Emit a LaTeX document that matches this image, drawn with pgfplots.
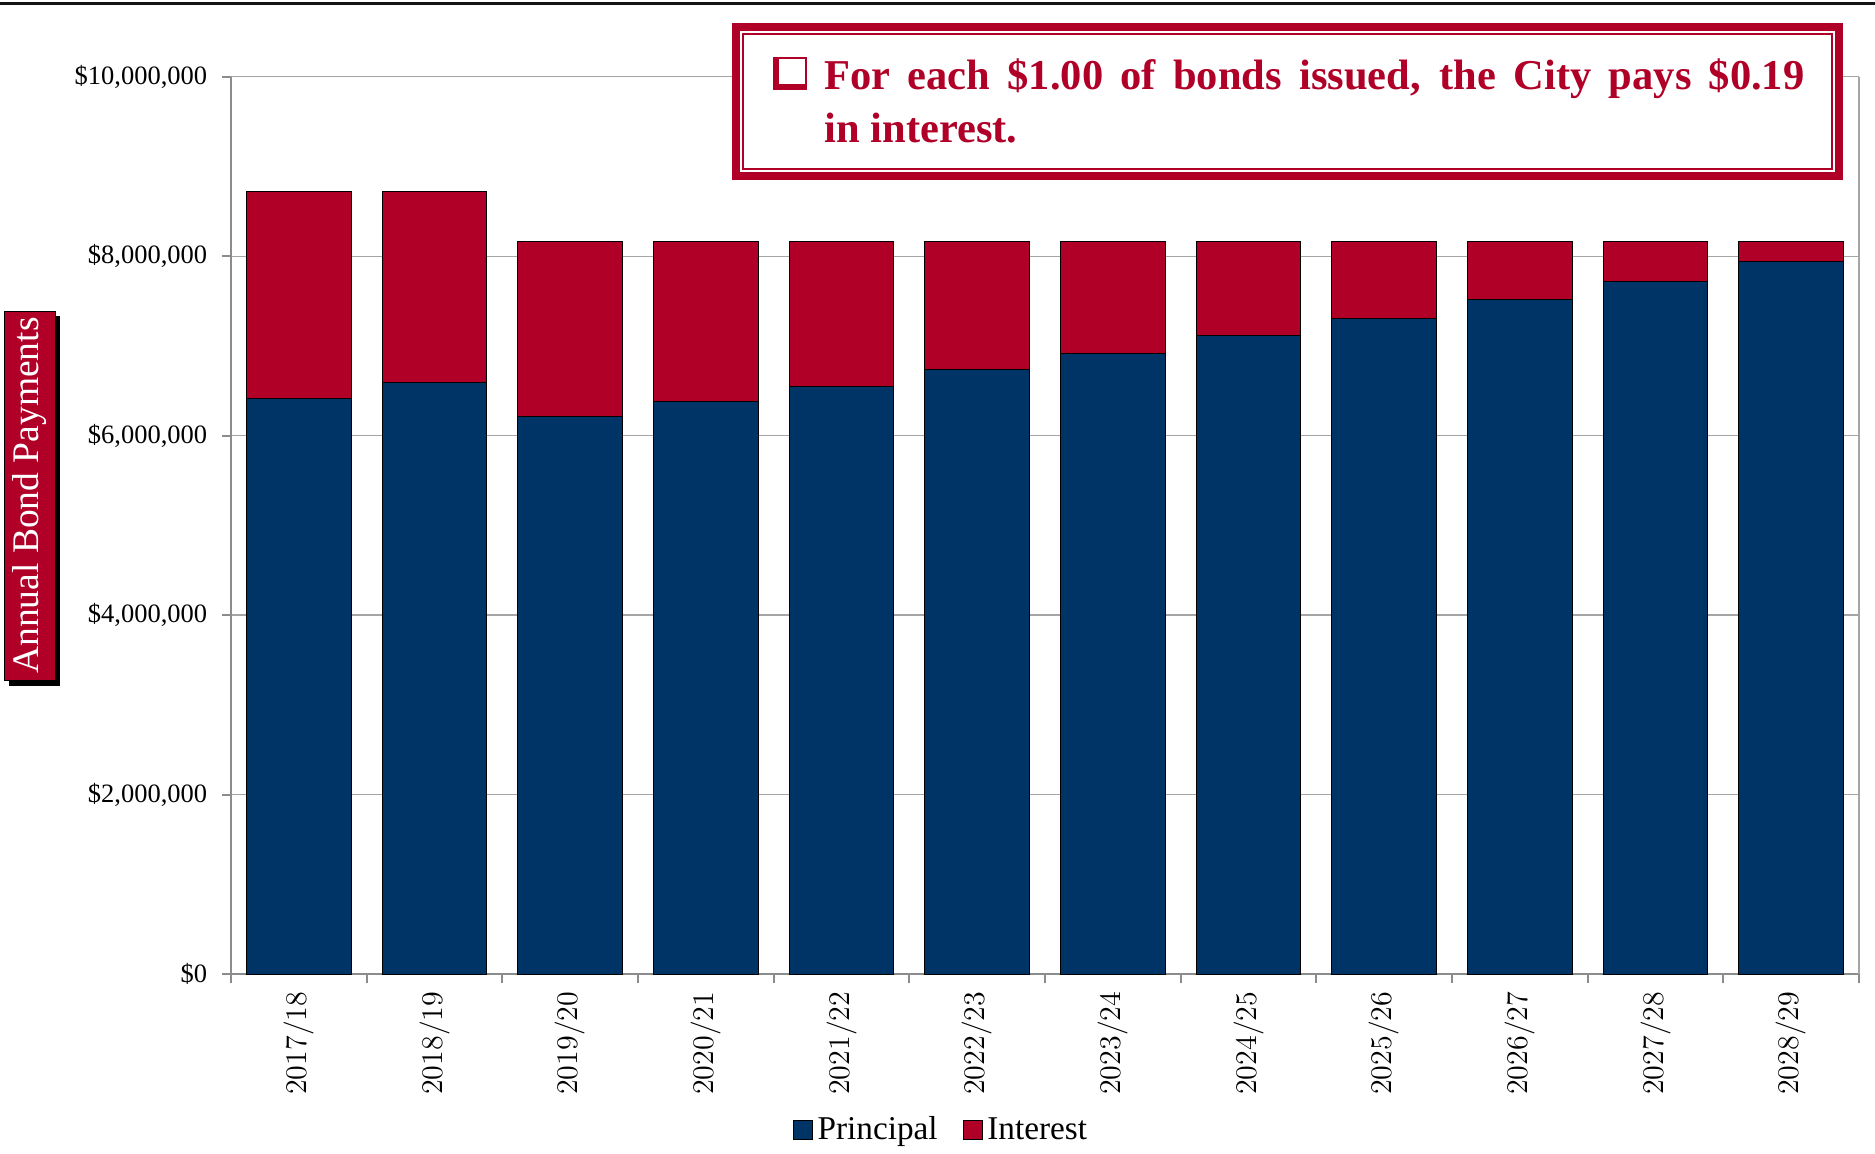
\documentclass[border=0pt]{standalone}
\usepackage{pgfplots}
\pgfplotsset{compat=1.18}
\usepackage{fontspec}
\newfontfamily\serif{Liberation Serif}
\definecolor{navy}{RGB}{0,51,102}
\definecolor{crim}{RGB}{176,0,40}
\definecolor{axgray}{RGB}{140,140,140}
\definecolor{gridgray}{RGB}{165,165,165}

\pgfplotstableread{
x P I
0 6410000 2310000
1 6590000 2130000
2 6210000 1950000
3 6380000 1780000
4 6550000 1610000
5 6740000 1420000
6 6920000 1240000
7 7120000 1040000
8 7310000 850000
9 7520000 640000
10 7720000 440000
11 7940000 220000
}\bonds

\begin{document}
\begin{tikzpicture}
\begin{scope}[x=0.4pt,y=-0.4pt]
\useasboundingbox (0,0) rectangle (1875,1152);
\fill[black!92] (0,1.5) rectangle (1875,4.5);
\end{scope}
\begin{axis}[
  at={(92.4pt,-389.6pt)}, anchor=south west,
  width=651.2pt, height=358.9pt, scale only axis,
  ymin=0, ymax=10000000, xmin=-0.5, xmax=11.5,
  ybar stacked, bar width=0.77,
  axis lines*=left,
  axis line style={draw=axgray, line width=1pt},
  tick align=outside,
  major tick length=3.6pt, minor tick length=3.4pt,
  ytick={0,2000000,4000000,6000000,8000000,10000000},
  yticklabels={{\$0},{\$2,000,000},{\$4,000,000},{\$6,000,000},{\$8,000,000},{\$10,000,000}},
  scaled y ticks=false,
  yticklabel style={font=\serif\fontsize{10.6}{10.6}\selectfont, text=black, xshift=-2.4pt},
  ytick style={draw=axgray, line width=0.8pt},
  ymajorgrids, grid style={draw=gridgray, line width=0.5pt},
  xtick={0,...,11},
  xticklabels={2017/18,2018/19,2019/20,2020/21,2021/22,2022/23,2023/24,2024/25,2025/26,2026/27,2027/28,2028/29},
  x tick label style={rotate=90, anchor=east, font=\fontsize{12}{12}\selectfont},
  major x tick style={draw=none},
  minor xtick={-0.5,0.5,...,11.5},
  minor x tick style={draw=axgray, line width=0.8pt},
  legend style={at={(0.437,-0.174)}, anchor=center, draw=none, legend columns=2,
    font=\serif\fontsize{13.3}{13.3}\selectfont,
    /tikz/every even column/.append style={column sep=8pt}},
  legend image code/.code={\draw[#1, draw=black, line width=0.3pt] (0pt,-3.8pt) rectangle (7.6pt,3.8pt);},
  clip=false,
]
\addplot[fill=navy, draw=black, line width=0.4pt] table[x=x, y=P] {\bonds};
\addlegendentry{Principal}
\addplot[fill=crim, draw=black, line width=0.4pt] table[x=x, y=I] {\bonds};
\addlegendentry{Interest}
\draw[draw=gridgray, line width=0.5pt] (rel axis cs:1,0) -- (rel axis cs:1,1);
\end{axis}
\begin{scope}[x=0.4pt,y=-0.4pt]
% y label box
\fill[black] (9,316) rectangle (60,686);
\fill[crim, draw=black, line width=0.4pt] (4,311) rectangle (55,680);
\node[rotate=90, text=white, font=\serif\fontsize{15}{15}\selectfont] at (30,495.5) {Annual Bond Payments};
% text box
\fill[crim] (732,23) rectangle (1843,180);
\fill[white] (740,31) rectangle (1835,172);
\draw[crim, line width=0.7pt] (743,34) rectangle (1832,169);
% checkbox
\fill[crim] (774,58) rectangle (806,89);
\fill[white] (779,58.8) rectangle (805.2,84);
\draw[crim, line width=0.6pt] (774,58) rectangle (806,89);
\node[anchor=base west, inner sep=0pt, text=crim, font=\serif\bfseries\fontsize{17}{21.2}\selectfont, text width=392pt, align=justify] at (824,89) {For each \$1.00 of bonds issued, the City pays \$0.19\linebreak in interest.};
\end{scope}
\end{tikzpicture}
\end{document}
